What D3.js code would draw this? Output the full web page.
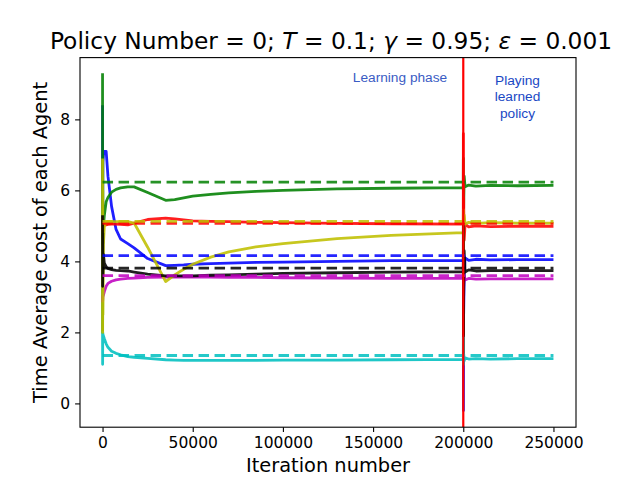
<!DOCTYPE html>
<html lang="en">
<head>
  <meta charset="UTF-8">
  <title>Time Average cost of each Agent</title>
  <script src="https://d3js.org/d3.v7.min.js"></script>
  <style>
    body, html { margin: 0; padding: 0; background: #fff; }
    svg { display: block; }
  </style>
</head>
<body>
  <svg width="640" height="480"></svg>
  <script>
    // iteration numbers where the time averages were sampled
    const iterations = [0, 50, 100, 200, 500, 1000, 2000, 3000, 5000, 7500, 10000, 14000, 17500, 25000, 35000,
      40000, 45000, 50000, 60000, 70000, 85000, 100000, 130000, 160000,
      200000, 200050, 200100, 200200, 200500, 201000, 203000, 207000, 215000, 230000, 250000];

    // time average cost per agent (solid lines), drawn in this order
    const agentColors = ["b", "g", "r", "c", "m", "y", "k"];
    const costB = [8.4, 4.5, 6.0, 6.8, 7.0, 7.1, 7.1, 6.4, 5.55, 4.9, 4.63, 4.5, 4.38, 4.08, 3.88,
      3.89, 3.9, 3.92, 3.94, 3.95, 3.97, 3.98, 4.0, 4.02,
      4.03, 4.3, -0.2, 2.5, 3.6, 4.1, 4.03, 4.06, 4.04, 4.05, 4.05];
    const costG = [9.3, 2.0, 7.0, 4.5, 5.0, 5.3, 5.68, 5.8, 5.95, 6.03, 6.07, 6.1, 6.1, 5.94, 5.72,
      5.74, 5.79, 5.84, 5.89, 5.93, 5.97, 6.0, 6.04, 6.06,
      6.08, 6.9, 1.4, 5.5, 6.4, 6.1, 6.15, 6.12, 6.14, 6.13, 6.14];
    const costR = [5.0, 5.2, 4.85, 5.0, 5.0, 5.02, 5.03, 5.04, 5.05, 5.05, 5.04, 5.03, 5.08, 5.18, 5.22,
      5.2, 5.17, 5.14, 5.13, 5.12, 5.1, 5.09, 5.07, 5.06,
      5.05, 7.6, 3.0, 5.8, 4.6, 5.05, 4.97, 5.0, 4.98, 4.99, 4.99];
    const costC = [2.0, 1.1, 2.0, 1.95, 1.9, 1.82, 1.68, 1.58, 1.47, 1.41, 1.37, 1.32, 1.3, 1.27, 1.23,
      1.22, 1.21, 1.21, 1.21, 1.21, 1.21, 1.22, 1.22, 1.23,
      1.24, 1.9, 1.1, 1.4, 1.2, 1.28, 1.25, 1.26, 1.25, 1.26, 1.26];
    const costM = [2.85, 3.0, 2.9, 3.0, 3.05, 3.15, 3.3, 3.38, 3.44, 3.48, 3.5, 3.52, 3.53, 3.55, 3.56,
      3.56, 3.56, 3.56, 3.56, 3.55, 3.55, 3.54, 3.53, 3.52,
      3.52, 4.0, 2.8, 3.3, 3.6, 3.48, 3.52, 3.5, 3.51, 3.51, 3.51];
    const costY = [6.9, 2.0, 6.0, 2.5, 4.5, 5.0, 5.1, 5.12, 5.12, 5.12, 5.12, 5.12, 5.08, 4.4, 3.43,
      3.62, 3.78, 3.92, 4.12, 4.27, 4.41, 4.5, 4.64, 4.73,
      4.81, 5.45, 3.6, 4.9, 5.3, 5.05, 5.1, 5.07, 5.09, 5.08, 5.08];
    const costK = [5.3, 3.3, 4.8, 3.6, 4.2, 3.95, 3.85, 3.8, 3.77, 3.75, 3.74, 3.73, 3.7, 3.64, 3.59,
      3.59, 3.59, 3.59, 3.61, 3.62, 3.64, 3.66, 3.68, 3.7,
      3.71, 5.0, 1.9, 3.0, 4.3, 3.7, 3.76, 3.73, 3.74, 3.74, 3.74];

    // reference cost per agent (dashed lines)
    const referenceCost = [4.16, 6.23, 5.07, 1.35, 3.6, 5.13, 3.81];
    const referenceRange = [0, 250000];

    const switchIteration = 200000;
    const xTicks = [0, 50000, 100000, 150000, 200000, 250000];
    const yTicks = [0, 2, 4, 6, 8];

    const costs = [costB, costG, costR, costC, costM, costY, costK];
    const mplColors = { b: "#0000ff", g: "#008000", r: "#ff0000", c: "#00bfbf", m: "#bf00bf", y: "#bfbf00", k: "#000000" };

    const svg = d3.select("svg");
    const margin = { left: 80, right: 576, top: 57.6, bottom: 427.2 };

    const x = d3.scaleLinear().domain([-12500, 262500]).range([margin.left, margin.right]);
    const y = d3.scaleLinear().domain([-0.67, 9.74]).range([margin.bottom, margin.top]);

    svg.append("clipPath").attr("id", "plot")
      .append("rect")
      .attr("x", margin.left).attr("y", margin.top)
      .attr("width", margin.right - margin.left).attr("height", margin.bottom - margin.top);

    const plot = svg.append("g").attr("clip-path", "url(#plot)");

    const line = d3.line()
      .x(d => x(d[0]))
      .y(d => y(d[1]));

    // solid lines
    costs.forEach((series, i) => {
      plot.append("path")
        .datum(iterations.map((it, j) => [it, series[j]]))
        .attr("d", line)
        .attr("fill", "none")
        .attr("stroke", mplColors[agentColors[i]])
        .attr("stroke-opacity", 0.88)
        .attr("stroke-width", 2.8)
        .attr("stroke-linejoin", "round");
    });

    // dashed reference lines
    referenceCost.forEach((v, i) => {
      plot.append("path")
        .datum(referenceRange.map(it => [it, v]))
        .attr("d", line)
        .attr("fill", "none")
        .attr("stroke", mplColors[agentColors[i]])
        .attr("stroke-opacity", 0.85)
        .attr("stroke-width", 2.8)
        .attr("stroke-dasharray", "10.5,5.5");
    });

    // switch from learning to playing
    plot.append("line")
      .attr("x1", x(switchIteration)).attr("x2", x(switchIteration))
      .attr("y1", margin.top).attr("y2", margin.bottom)
      .attr("stroke", "#ff0000")
      .attr("stroke-width", 2.2);

    // axes
    const xAxis = svg.append("g")
      .attr("transform", `translate(0,${margin.bottom})`)
      .call(d3.axisBottom(x).tickValues(xTicks).tickFormat(d3.format("d")).tickSize(4.9).tickPadding(4.9));
    const yAxis = svg.append("g")
      .attr("transform", `translate(${margin.left},0)`)
      .call(d3.axisLeft(y).tickValues(yTicks).tickFormat(d3.format("d")).tickSize(4.9).tickPadding(4.9));

    [xAxis, yAxis].forEach(a => {
      a.select(".domain").remove();
      a.selectAll("line").attr("stroke", "#000").attr("stroke-width", 1.1);
      a.selectAll("text")
        .attr("fill", "#000")
        .style("font-family", "DejaVu Sans")
        .style("font-size", "15.5px");
    });

    svg.append("rect")
      .attr("x", margin.left).attr("y", margin.top)
      .attr("width", margin.right - margin.left).attr("height", margin.bottom - margin.top)
      .attr("fill", "none").attr("stroke", "#000").attr("stroke-width", 1.1);

    // labels
    const title = svg.append("text")
      .attr("x", 331)
      .attr("y", 49)
      .attr("text-anchor", "middle")
      .style("font-family", "DejaVu Sans")
      .style("font-size", "23.3px");
    title.append("tspan").text("Policy Number = 0; ");
    title.append("tspan").style("font-style", "italic").text("T");
    title.append("tspan").text(" = 0.1; ");
    title.append("tspan").style("font-style", "italic").text("γ");
    title.append("tspan").text(" = 0.95; ");
    title.append("tspan").style("font-style", "italic").text("ε");
    title.append("tspan").text(" = 0.001");

    svg.append("text")
      .attr("x", (margin.left + margin.right) / 2)
      .attr("y", 472)
      .attr("text-anchor", "middle")
      .style("font-family", "DejaVu Sans")
      .style("font-size", "19.4px")
      .text("Iteration number");

    svg.append("text")
      .attr("transform", `translate(47,${(margin.top + margin.bottom) / 2}) rotate(-90)`)
      .attr("text-anchor", "middle")
      .style("font-family", "DejaVu Sans")
      .style("font-size", "19.4px")
      .text("Time Average cost of each Agent");

    // phase notes
    svg.append("text")
      .attr("x", 400).attr("y", 81.5)
      .attr("text-anchor", "middle")
      .attr("fill", "#3a5cc4")
      .style("font-family", "Liberation Sans")
      .style("font-size", "13.7px")
      .text("Learning phase");

    const playing = svg.append("text")
      .attr("text-anchor", "middle")
      .attr("fill", "#1a48c4")
      .style("font-family", "Liberation Sans")
      .style("font-size", "13.7px");
    ["Playing", "learned", "policy"].forEach((w, i) => {
      playing.append("tspan").attr("x", 517.5).attr("y", 84.5 + i * 16.7).text(w);
    });
  </script>
</body>
</html>
